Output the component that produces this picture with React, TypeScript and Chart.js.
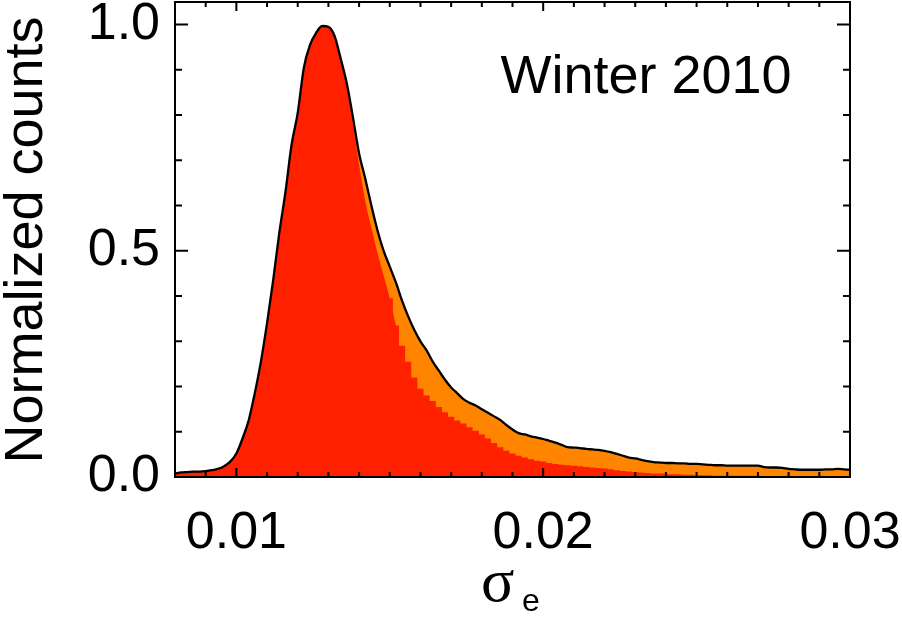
import React, { useEffect, useRef } from "react";
import { Chart, registerables } from "chart.js";

Chart.register(...registerables);

// ---- data (histogram bins, bin centres start at BIN_START, spaced BIN_WIDTH) ----
const BIN_START = 0.008;
const BIN_WIDTH = 0.0002;

// all points (black outline + orange fill)
const totalCounts = [
  0.008, 0.010, 0.011, 0.012, 0.012, 0.013, 0.015, 0.018, 0.024, 0.034,
  0.052, 0.085, 0.125, 0.185, 0.255, 0.34, 0.435, 0.54, 0.63, 0.735,
  0.805, 0.905, 0.955, 0.982, 0.997, 0.995, 0.975, 0.925, 0.87, 0.795,
  0.715, 0.66, 0.60, 0.545, 0.50, 0.465, 0.43, 0.39, 0.355, 0.325,
  0.30, 0.28, 0.255, 0.235, 0.215, 0.198, 0.185, 0.172, 0.164, 0.158,
  0.150, 0.142, 0.134, 0.126, 0.115, 0.105, 0.097, 0.094, 0.090, 0.087,
  0.084, 0.080, 0.076, 0.071, 0.066, 0.065, 0.064, 0.062, 0.061, 0.060,
  0.058, 0.055, 0.051, 0.047, 0.043, 0.041, 0.038, 0.035, 0.033, 0.032,
  0.031, 0.031, 0.030, 0.030, 0.029, 0.029, 0.028, 0.027, 0.026, 0.026,
  0.025, 0.025, 0.025, 0.025, 0.025, 0.025, 0.022, 0.021, 0.021, 0.020,
  0.018, 0.017, 0.016, 0.016, 0.016, 0.016, 0.017, 0.017, 0.018, 0.017,
  0.016,
];

// subset (red fill)
const redCounts = [
  0.008, 0.010, 0.011, 0.012, 0.012, 0.013, 0.015, 0.018, 0.024, 0.034,
  0.052, 0.085, 0.125, 0.185, 0.255, 0.34, 0.435, 0.54, 0.63, 0.735,
  0.805, 0.905, 0.955, 0.982, 0.997, 0.995, 0.975, 0.925, 0.865, 0.78,
  0.69, 0.61, 0.55, 0.495, 0.445, 0.395, 0.335, 0.29, 0.255, 0.22,
  0.195, 0.18, 0.168, 0.155, 0.143, 0.133, 0.125, 0.118, 0.110, 0.102,
  0.094, 0.085, 0.075, 0.066, 0.058, 0.052, 0.047, 0.043, 0.039, 0.036,
  0.034, 0.031, 0.029, 0.027, 0.026, 0.025, 0.024, 0.022, 0.021, 0.020,
  0.019, 0.017, 0.015, 0.013, 0.012, 0.011, 0.010, 0.009, 0.008, 0.008,
  0.007, 0.006, 0.006, 0.005, 0.005, 0.004, 0.004, 0.004, 0.003, 0.003,
  0.003, 0.003, 0.003, 0.003, 0.003, 0.003, 0.002, 0.002, 0.002, 0.002,
  0.002, 0.002, 0.002, 0.002, 0.002, 0.002, 0.002, 0.002, 0.002, 0.002,
  0.002,
];

// index where the red histogram switches from the smooth part to visible steps
const RED_SPLIT = 36;

const X_MIN = 0.008;
const X_MAX = 0.03;
const Y_MIN = 0;
const Y_MAX = 1.05;

const xTickValues = [0.01, 0.02, 0.03];
const yTickValues = [0.0, 0.5, 1.0];
const xMinorTicks = [
  0.009, 0.011, 0.012, 0.013, 0.014, 0.015, 0.016, 0.017, 0.018, 0.019,
  0.021, 0.022, 0.023, 0.024, 0.025, 0.026, 0.027, 0.028, 0.029,
];
const yMinorTicks = [0.1, 0.2, 0.3, 0.4, 0.6, 0.7, 0.8, 0.9];

const panelLabel = "Winter 2010";
const yTitle = "Normalized counts";
const xTitleMain = "σ";
const xTitleSub = "e";

const FONT = "'Liberation Sans', Arial, Helvetica, sans-serif";
const RED = "#ff2000";
const ORANGE = "#ff8500";

export default function App() {
  const canvasRef = useRef<HTMLCanvasElement | null>(null);

  useEffect(() => {
    const canvas = canvasRef.current;
    if (!canvas) return;

    const xs = totalCounts.map((_, i) => +(BIN_START + i * BIN_WIDTH).toFixed(5));
    const totalPts = totalCounts.map((y, i) => ({ x: xs[i], y }));
    const redPts = redCounts.map((y, i) => ({ x: xs[i], y }));

    const decor = {
      id: "decor",
      afterDraw(chart: any) {
        const { ctx, chartArea } = chart;
        const { left, right, top, bottom } = chartArea;
        const xs = chart.scales.x;
        const ys = chart.scales.y;
        ctx.save();
        ctx.strokeStyle = "#000";
        ctx.lineWidth = 2;
        ctx.lineCap = "butt";
        // frame
        ctx.strokeRect(left, top, right - left, bottom - top);
        // x ticks (inward, bottom and top)
        const xt = (v: number, len: number) => {
          const p = xs.getPixelForValue(v);
          ctx.beginPath();
          ctx.moveTo(p, bottom);
          ctx.lineTo(p, bottom - len);
          ctx.moveTo(p, top);
          ctx.lineTo(p, top + len);
          ctx.stroke();
        };
        xTickValues.forEach((v) => xt(v, 9));
        xMinorTicks.forEach((v) => xt(v, 5));
        // y ticks (inward, left and right)
        const yt = (v: number, len: number) => {
          const p = ys.getPixelForValue(v);
          ctx.beginPath();
          ctx.moveTo(left, p);
          ctx.lineTo(left + len, p);
          ctx.moveTo(right, p);
          ctx.lineTo(right - len, p);
          ctx.stroke();
        };
        yTickValues.forEach((v) => yt(v, 13));
        yMinorTicks.forEach((v) => yt(v, 7));

        ctx.fillStyle = "#000";
        // panel label
        ctx.font = `54px ${FONT}`;
        ctx.textAlign = "center";
        ctx.textBaseline = "alphabetic";
        ctx.fillText(panelLabel, 646, 93);

        // y title
        ctx.save();
        ctx.translate(42, 240);
        ctx.rotate(-Math.PI / 2);
        ctx.font = `54px ${FONT}`;
        ctx.textAlign = "center";
        ctx.textBaseline = "alphabetic";
        ctx.fillText(yTitle, 0, 0);
        ctx.restore();

        // x title: sigma with subscript e
        ctx.textAlign = "left";
        ctx.textBaseline = "alphabetic";
        ctx.font = `62px 'Liberation Serif', 'Times New Roman', serif`;
        ctx.fillText(xTitleMain, 481, 601);
        ctx.font = `32px ${FONT}`;
        ctx.fillText(xTitleSub, 522, 611);
        ctx.restore();
      },
    };

    const chart = new Chart(canvas, {
      type: "line",
      data: {
        datasets: [
          {
            label: "outline",
            data: totalPts,
            borderColor: "#000",
            borderWidth: 2.3,
            fill: false,
            pointRadius: 0,
            cubicInterpolationMode: "monotone",
            order: 0,
          },
          {
            label: "red smooth",
            data: redPts.slice(0, RED_SPLIT + 1),
            borderColor: "rgba(0,0,0,0)",
            borderWidth: 0,
            backgroundColor: RED,
            fill: "origin",
            pointRadius: 0,
            cubicInterpolationMode: "monotone",
            order: 1,
          },
          {
            label: "red stepped",
            data: redPts.slice(RED_SPLIT - 1),
            borderColor: "rgba(0,0,0,0)",
            borderWidth: 0,
            backgroundColor: RED,
            fill: "origin",
            pointRadius: 0,
            stepped: "middle",
            order: 1,
          },
          {
            label: "total fill",
            data: totalPts,
            borderColor: "rgba(0,0,0,0)",
            borderWidth: 0,
            backgroundColor: ORANGE,
            fill: "origin",
            pointRadius: 0,
            cubicInterpolationMode: "monotone",
            order: 2,
          },
        ],
      } as any,
      options: {
        animation: false,
        responsive: false,
        maintainAspectRatio: false,
        events: [],
        layout: { padding: { top: 2, right: 52, left: 0, bottom: 0 } },
        plugins: {
          legend: { display: false },
          tooltip: { enabled: false },
        },
        scales: {
          x: {
            type: "linear",
            min: X_MIN,
            max: X_MAX,
            grid: { display: false, drawTicks: false },
            border: { display: false },
            afterBuildTicks: (s: any) => {
              s.ticks = xTickValues.map((v) => ({ value: v }));
            },
            afterFit: (s: any) => {
              s.height = 143;
              s.paddingLeft = 0;
              s.paddingRight = 0;
            },
            ticks: {
              padding: 25,
              color: "#000",
              font: { family: FONT, size: 52 },
              maxRotation: 0,
              autoSkip: false,
              callback: (v: any) => Number(v).toFixed(2),
            },
          },
          y: {
            type: "linear",
            min: Y_MIN,
            max: Y_MAX,
            grid: { display: false, drawTicks: false },
            border: { display: false },
            afterBuildTicks: (s: any) => {
              s.ticks = yTickValues.map((v) => ({ value: v }));
            },
            afterFit: (s: any) => {
              s.width = 175;
              s.paddingTop = 0;
              s.paddingBottom = 0;
            },
            ticks: {
              padding: 15,
              color: "#000",
              font: { family: FONT, size: 52 },
              autoSkip: false,
              callback: (v: any) => Number(v).toFixed(1),
            },
          },
        },
      } as any,
      plugins: [decor],
    });

    return () => chart.destroy();
  }, []);

  return (
    <div
      style={{
        position: "fixed",
        left: 0,
        top: 0,
        width: 902,
        height: 620,
        background: "#fff",
      }}
    >
      <canvas ref={canvasRef} width={902} height={620} style={{ display: "block" }} />
    </div>
  );
}
